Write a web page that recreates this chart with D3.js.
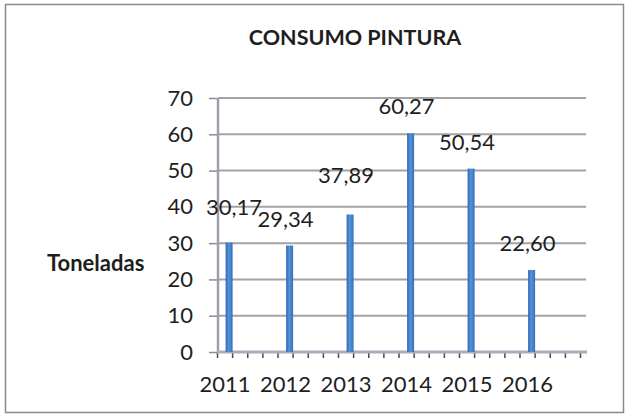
<!DOCTYPE html>
<html>
<head>
<meta charset="utf-8">
<script src="https://cdn.jsdelivr.net/npm/d3@7"></script>
<style>
  body { margin: 0; background: #fff; }
  text { font-family: Lato, "Open Sans", sans-serif; fill: #1e1e1e; }
</style>
</head>
<body>
<script>
// chart data
var years = [2011, 2012, 2013, 2014, 2015, 2016];
var toneladas = [30.17, 29.34, 37.89, 60.27, 50.54, 22.60];
var valueLabels = ["30,17", "29,34", "37,89", "60,27", "50,54", "22,60"];
var yTicks = [0, 10, 20, 30, 40, 50, 60, 70];

var svgWidth = 629;
var svgHeight = 418;

var margin = {
  top: 98,
  right: 49,
  bottom: 66,
  left: 217
};
var width = svgWidth - margin.left - margin.right;
var height = svgHeight - margin.top - margin.bottom;

// a couple of the labels were dragged by hand in the original
var labelNudge = { 2011: [9, -8.5], 2013: [0, -12.5] };

var svg = d3.select("body")
  .append("svg")
  .attr("width", svgWidth)
  .attr("height", svgHeight);

// bar shading
var grad = svg.append("defs").append("linearGradient")
  .attr("id", "barGrad")
  .attr("x1", "0").attr("x2", "1").attr("y1", "0").attr("y2", "0");
grad.append("stop").attr("offset", "0%").attr("stop-color", "#2f68b0");
grad.append("stop").attr("offset", "45%").attr("stop-color", "#5592db");
grad.append("stop").attr("offset", "100%").attr("stop-color", "#3471bd");

// outer frame
svg.append("rect")
  .attr("x", 5.5)
  .attr("y", 4.5)
  .attr("width", 618)
  .attr("height", 408)
  .attr("fill", "none")
  .attr("stroke", "#8a8a8a")
  .attr("stroke-width", 1.5);

// title
svg.append("text")
  .attr("x", 355)
  .attr("y", 45)
  .attr("text-anchor", "middle")
  .style("font-weight", "bold")
  .style("font-size", "21.5px")
  .text("CONSUMO PINTURA");

// y axis title
svg.append("text")
  .attr("x", 47)
  .attr("y", 271)
  .style("font-weight", "bold")
  .style("font-size", "22px")
  .text("Toneladas");

var chartGroup = svg.append("g")
  .attr("transform", `translate(${margin.left}, ${margin.top})`);

// scales
var xScale = d3.scaleLinear()
  .domain([2010.8, 2016.8])
  .range([0, width]);

var yScale = d3.scaleLinear()
  .domain([0, 70])
  .range([height, 0]);

// gridlines
chartGroup.append("g")
  .selectAll("line")
  .data(yTicks.filter(d => d > 0))
  .enter()
  .append("line")
  .attr("x1", 1)
  .attr("x2", width + 6)
  .attr("y1", d => yScale(d))
  .attr("y2", d => yScale(d))
  .attr("stroke", "#a3a3a3")
  .attr("stroke-width", 2);

// left axis
var leftAxis = d3.axisLeft(yScale)
  .tickValues(yTicks)
  .tickSize(8)
  .tickPadding(16);

var yAxis = chartGroup.append("g")
  .call(leftAxis);
yAxis.select(".domain").remove();
yAxis.selectAll("line").attr("stroke", "#8c8c8c").attr("stroke-width", 1.5);
yAxis.selectAll("text")
  .style("font-size", "22px")
  .style("font-family", "Lato, sans-serif")
  .attr("fill", "#1e1e1e");

chartGroup.append("line")
  .attr("x1", 1).attr("x2", 1)
  .attr("y1", 0).attr("y2", height)
  .attr("stroke", "#a49cae")
  .attr("stroke-width", 2.5);

// bottom axis, quarter ticks
var quarterTicks = d3.range(25).map(i => 2010.8 + i / 4);
var bottomAxis = d3.axisBottom(xScale)
  .tickValues(quarterTicks)
  .tickSize(6)
  .tickFormat("");

var xAxis = chartGroup.append("g")
  .attr("transform", `translate(0, ${height})`)
  .call(bottomAxis);
xAxis.select(".domain").remove();
xAxis.selectAll("line").attr("stroke", "#4a4a4a").attr("stroke-width", 1.5);

// floor line
chartGroup.append("line")
  .attr("x1", 0).attr("x2", width + 7)
  .attr("y1", height).attr("y2", height)
  .attr("stroke", "#b2a8bd")
  .attr("stroke-width", 3);

// year labels
chartGroup.append("g")
  .selectAll("text")
  .data(years)
  .enter()
  .append("text")
  .attr("x", d => xScale(d) - 4)
  .attr("y", height + 40)
  .attr("text-anchor", "middle")
  .style("font-size", "22px")
  .text(d => d);

// bars
chartGroup.selectAll(".bar")
  .data(years)
  .enter()
  .append("rect")
  .attr("class", "bar")
  .attr("x", d => xScale(d) - 3.5)
  .attr("y", (d, i) => yScale(toneladas[i]))
  .attr("width", 7)
  .attr("height", (d, i) => height - yScale(toneladas[i]))
  .attr("fill", "url(#barGrad)");

// value labels
chartGroup.append("g")
  .selectAll("text")
  .data(years)
  .enter()
  .append("text")
  .attr("x", d => xScale(d) - 4 + (labelNudge[d] ? labelNudge[d][0] : 0))
  .attr("y", (d, i) => yScale(toneladas[i]) - 19 + (labelNudge[d] ? labelNudge[d][1] : 0))
  .attr("text-anchor", "middle")
  .style("font-size", "22px")
  .text((d, i) => valueLabels[i]);
</script>
</body>
</html>
